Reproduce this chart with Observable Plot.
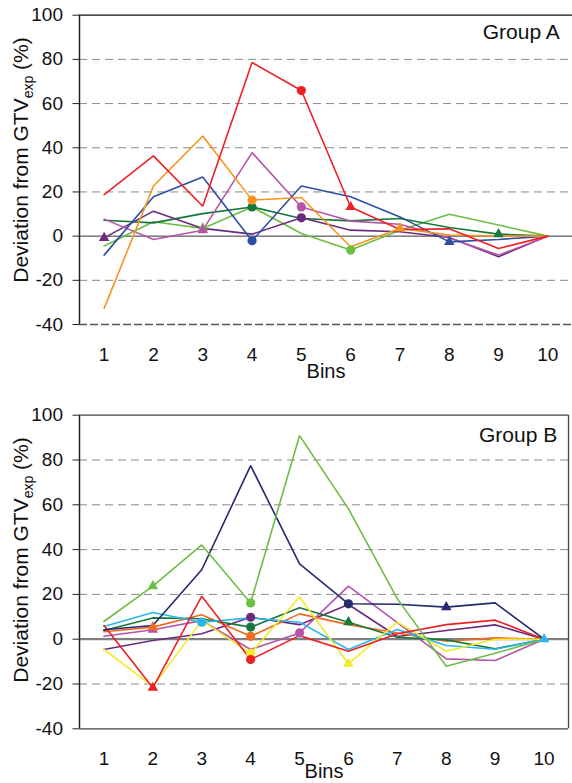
<!DOCTYPE html>
<html><head><meta charset="utf-8">
<script src="https://cdn.jsdelivr.net/npm/d3@7"></script>
<script src="https://cdn.jsdelivr.net/npm/@observablehq/plot@0.6"></script>
<style>body{margin:0;background:#fff} svg{display:block}</style>
</head><body><div id="chart"></div>
<script>
const bins = [1, 2, 3, 4, 5, 6, 7, 8, 9, 10];
const yTicks = [-40, -20, 0, 20, 40, 60, 80, 100];
const gridTicks = [-20, 20, 40, 60, 80];

// Group A
const namesA = ["A-lightgreen", "A-darkgreen", "A-purple", "A-pink", "A-blue", "A-orange", "A-red"];
const colorsA = ["#6cbe45", "#16783c", "#6a2b7f", "#b455a8", "#2e4fa3", "#f7941d", "#ed2024"];
const a_lightgreen = [-4.5, 6.5, 3.5, 13.2, 1.2, -6.3, 2.7, 9.9, 5, 0];
const a_darkgreen = [7.2, 6, 10.2, 13.2, 8, 6.9, 8, 3.9, 0.9, 0];
const a_purple = [-0.8, 11.3, 3.5, 0.9, 8.3, 2.7, 2, -0.6, -9.3, 0];
const a_pink = [7.7, -1.5, 2.7, 37.8, 13.2, 6.8, 5.4, -0.8, -8.6, 0];
const a_blue = [-8.6, 17.8, 26.8, -2.1, 22.7, 17.8, 8.7, -2.6, -1.5, 0];
const a_orange = [-32.7, 22.7, 45.3, 16.3, 17.5, -4.8, 3.5, 0.5, 0, 0];
const a_red = [18.8, 36.3, 13.5, 78.6, 65.9, 13.2, 3, 3.3, -5.6, 0];
const valuesA = [a_lightgreen, a_darkgreen, a_purple, a_pink, a_blue, a_orange, a_red];
const circlesA = [6, 4, 5, 5, 4, 4, 5];
const trianglesA = [3, 9, 1, 3, 8, 7, 6];

// Group B
const namesB = ["B-purple", "B-pink", "B-orange", "B-darkgreen", "B-cyan", "B-yellow", "B-red", "B-navy", "B-lightgreen"];
const colorsB = ["#6a2b7f", "#b455a8", "#f26a22", "#16783c", "#27b7ea", "#f2ea2c", "#ed2024", "#232a6e", "#6cbe45"];
const b_purple = [-4.6, -0.6, 2.4, 9.8, 6.5, 15.5, 1.2, 3.9, 6.4, 0];
const b_pink = [1.3, 4.2, 8.3, -4.6, 2.8, 23.7, 7.4, -8.8, -9.5, 0];
const b_orange = [3.3, 5.4, 10.9, 1.3, 11.3, 6.5, 2.8, -0.9, 0.6, 0];
const b_darkgreen = [3.9, 9.5, 9.1, 5.4, 14, 7.6, 0.9, -0.3, -4.3, 0];
const b_cyan = [5.7, 11.9, 7.6, 9.5, 7.6, -4.6, 4.3, -2.8, -4.5, 0];
const b_yellow = [-4.6, -21.1, 8.3, -6.3, 18.8, -11, 7.6, -5.4, 0, 0];
const b_red = [6.1, -21.7, 19.2, -9.1, 1.6, -5.4, 2.4, 6.5, 8.5, 0];
const b_navy = [4.2, 6.1, 31, 77.5, 33.6, 15.8, 15.6, 14.3, 16.2, 0];
const b_lightgreen = [7.9, 23.7, 42.1, 16.2, 90.9, 58.2, 18, -12.1, -6.3, 0];
const valuesB = [b_purple, b_pink, b_orange, b_darkgreen, b_cyan, b_yellow, b_red, b_navy, b_lightgreen];
const circlesB = [4, 5, 4, 4, 3, 4, 4, 6, 4];
const trianglesB = [null, 2, 2, 6, 10, 6, 2, 8, 2];

const FONT = "'Liberation Sans', Arial, sans-serif";

function panel(cfg) {
  const {names, colors, values, circles, triangles, label, height, marginBottom, marginRight,
         boxed, zeroStroke, zeroWidth, labelDx, labelDy, ylabelY, binsDy} = cfg;
  const rows = [];
  names.forEach((n, i) => values[i].forEach((v, j) => rows.push({series: n, bin: bins[j], value: v})));
  const pick = (idx) => names.map((n, i) => idx[i] ? {series: n, bin: idx[i], value: values[i][idx[i] - 1]} : null).filter(Boolean);
  const circ = pick(circles);
  const tri = pick(triangles);
  const marks = [
    Plot.gridY(gridTicks, {stroke: "#8a8a8a", strokeOpacity: 1, strokeWidth: 1, strokeDasharray: "8,5"}),
  ];
  if (boxed) {
    marks.push(Plot.gridY([-40], {stroke: "#444", strokeOpacity: 1, strokeWidth: 1.3}));
  } else {
    marks.push(Plot.gridY([-40], {stroke: "#555", strokeOpacity: 1, strokeWidth: 1.3, strokeDasharray: "8,3"}));
  }
  marks.push(
    Plot.ruleY([0], {stroke: zeroStroke, strokeWidth: zeroWidth}),
    Plot.ruleY([100], {stroke: boxed ? "#444" : "#111", strokeWidth: 1.3}),
    Plot.ruleX([0.5], {stroke: "#222", strokeWidth: 1.5})
  );
  if (boxed) marks.push(Plot.ruleX([10.5], {stroke: "#444", strokeWidth: 1.3}));
  marks.push(
    Plot.axisY(yTicks, {tickSize: 6.5, tickPadding: 10, fontSize: 19, label: null, stroke: "#222", tickFormat: (d) => String(d)}),
    Plot.axisX(bins, {tickSize: 0, tickPadding: 23, fontSize: 19, label: null, tickFormat: (d) => String(d)}),
    Plot.line(rows, {x: "bin", y: "value", z: "series", stroke: "series", strokeWidth: 1.6, strokeLinejoin: "miter"}),
    Plot.dot(circ, {x: "bin", y: "value", fill: "series", r: 4.6}),
    Plot.dot(tri, {x: "bin", y: "value", fill: "series", symbol: "triangle", r: 3.9}),
    Plot.text([label], {frameAnchor: "top-right", textAnchor: "end", lineAnchor: "top", dx: labelDx, dy: labelDy, fontSize: 21, fill: "#111"}),
    Plot.text(["Bins"], {frameAnchor: "bottom", lineAnchor: "bottom", dy: binsDy, fontSize: 20, fill: "#111"})
  );
  const svg = Plot.plot({
    width: 572, height,
    marginLeft: 79, marginRight, marginTop: 14.7, marginBottom,
    style: {fontFamily: FONT, color: "#111", background: "#fff"},
    x: {domain: [0.5, 10.5]},
    y: {domain: [-40, 100]},
    color: {domain: names, range: colors},
    marks
  });
  const t = d3.select(svg).append("text")
    .attr("transform", `translate(28,${ylabelY}) rotate(-90)`)
    .attr("text-anchor", "middle")
    .attr("font-family", FONT)
    .attr("font-size", 21)
    .attr("fill", "#111");
  t.append("tspan").text("Deviation from GTV");
  t.append("tspan").attr("font-size", 14).attr("dy", 5).text("exp");
  t.append("tspan").attr("dy", -5).text(" (%)");
  return svg;
}

const root = document.getElementById("chart");
root.appendChild(panel({
  names: namesA, colors: colorsA, values: valuesA, circles: circlesA, triangles: trianglesA,
  label: "Group A", height: 400, marginBottom: 76, marginRight: 0, boxed: false,
  zeroStroke: "#333", zeroWidth: 1, labelDx: -12.7, labelDy: 9, ylabelY: 160, binsDy: 53
}));
root.appendChild(panel({
  names: namesB, colors: colorsB, values: valuesB, circles: circlesB, triangles: trianglesB,
  label: "Group B", height: 383, marginBottom: 54.7, marginRight: 4, boxed: true,
  zeroStroke: "#808080", zeroWidth: 2.2, labelDx: -11.3, labelDy: 12, ylabelY: 160, binsDy: 49
}));
</script></body></html>
